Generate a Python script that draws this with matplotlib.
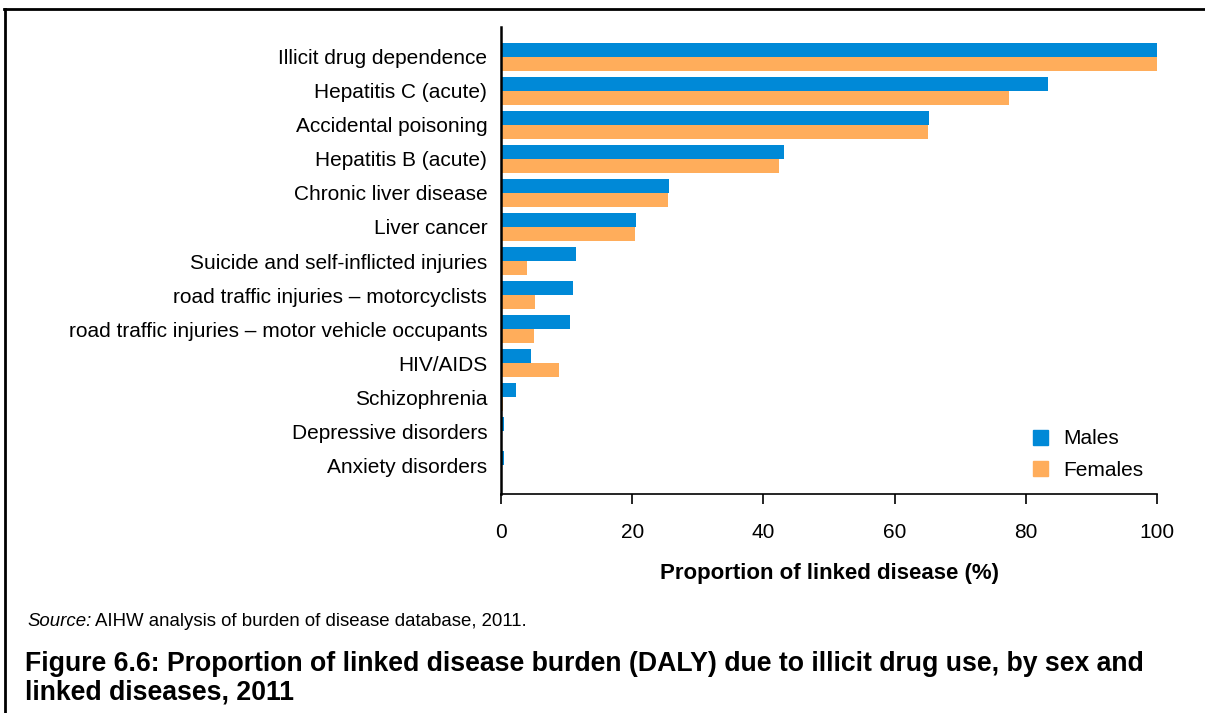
import matplotlib
matplotlib.use('Agg')
import numpy as np
import matplotlib.pyplot as plt
from matplotlib.lines import Line2D
from matplotlib.patches import Patch

plt.rcParams['font.family'] = ['Liberation Sans', 'DejaVu Sans']

# Data
diseases = [
    'Illicit drug dependence',
    'Hepatitis C (acute)',
    'Accidental poisoning',
    'Hepatitis B (acute)',
    'Chronic liver disease',
    'Liver cancer',
    'Suicide and self-inflicted injuries',
    'road traffic injuries \u2013 motorcyclists',
    'road traffic injuries \u2013 motor vehicle occupants',
    'HIV/AIDS',
    'Schizophrenia',
    'Depressive disorders',
    'Anxiety disorders',
]
males = [100, 83.4, 65.2, 43.1, 25.6, 20.6, 11.4, 11.0, 10.5, 4.6, 2.3, 0.4, 0.4]
females = [100, 77.4, 65.1, 42.4, 25.5, 20.4, 4.0, 5.2, 5.0, 8.8, 0.3, 0.0, 0.0]

blue = '#0089D7'
orange = '#FFAD5B'

fig = plt.figure(figsize=(12.05, 7.13), dpi=100)
ax = fig.add_axes([0.4158, 0.3072, 0.5444, 0.6549])

y = np.arange(len(diseases))
h = 0.4
ax.barh(y - h / 2, males, height=h, color=blue, label='Males')
ax.barh(y + h / 2, females, height=h, color=orange, label='Females')

ax.set_ylim(len(diseases) - 1 + 0.85, -0.88)
ax.set_xlim(0, 100)
ax.set_xticks([0, 20, 40, 60, 80, 100])
ax.set_yticks(y)
ax.set_yticklabels(diseases, fontsize=15)
ax.tick_params(axis='y', length=0, pad=10)
ax.tick_params(axis='x', length=7, width=1.2, labelsize=15, pad=14)
ax.spines['top'].set_visible(False)
ax.spines['right'].set_visible(False)
ax.spines['left'].set_linewidth(1.8)
ax.spines['bottom'].set_linewidth(1.2)
ax.set_xlabel('Proportion of linked disease (%)', fontsize=16, fontweight='bold', labelpad=15)

handles = [Patch(color=blue, label='Males'), Patch(color=orange, label='Females')]
ax.legend(handles=handles, loc='lower right', bbox_to_anchor=(1.008, -0.01),
          frameon=False, fontsize=15, handlelength=0.72, handleheight=0.72,
          handletextpad=0.72, labelspacing=0.6)

# outer frame: top and left lines
fig.add_artist(Line2D([4 / 1205, 1], [1 - 9 / 713, 1 - 9 / 713], color='black', lw=2))
fig.add_artist(Line2D([5 / 1205, 5 / 1205], [0, 1 - 9 / 713], color='black', lw=2))

# source note
t1 = fig.text(27 / 1205, 1 - 621 / 713, 'Source:', fontsize=13.4, style='italic', va='center')
fig.canvas.draw()
bb = t1.get_window_extent(fig.canvas.get_renderer())
fig.text((bb.x1 + 4) / 1205, 1 - 621 / 713, 'AIHW analysis of burden of disease database, 2011.',
         fontsize=13.4, va='center')

fig.text(25 / 1205, 1 - 678 / 713,
         'Figure 6.6: Proportion of linked disease burden (DALY) due to illicit drug use, by sex and\nlinked diseases, 2011',
         fontsize=19.2, fontweight='bold', va='center', linespacing=1.12)

fig.savefig('out.png', dpi=100)
